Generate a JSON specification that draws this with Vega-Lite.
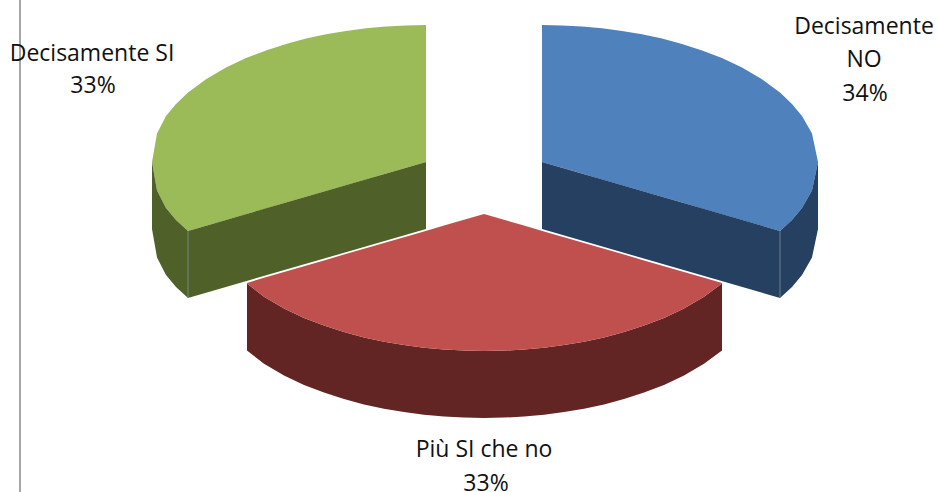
{
"$schema":"https://vega.github.io/schema/vega-lite/v6.json",
"width":938,"height":492,
"autosize":"none",
"padding":0,
"background":"white",
"config":{"view":{"stroke":null}},
"datasets":{
"faces":[
{"s":"blueTop","x":542,"y":25,"y2":162},{"s":"blueTop","x":562,"y":25.4,"y2":167.8},{"s":"blueTop","x":582,"y":26.4,"y2":173.6},{"s":"blueTop","x":602,"y":28.3,"y2":179.4},{"s":"blueTop","x":622,"y":30.9,"y2":185.2},{"s":"blueTop","x":642,"y":34.3,"y2":191},{"s":"blueTop","x":662,"y":38.6,"y2":196.8},{"s":"blueTop","x":682,"y":43.9,"y2":202.6},{"s":"blueTop","x":702,"y":50.4,"y2":208.4},{"s":"blueTop","x":722,"y":58.1,"y2":214.2},{"s":"blueTop","x":742,"y":67.6,"y2":220},{"s":"blueTop","x":762,"y":79.3,"y2":225.8},{"s":"blueTop","x":780,"y":92.6,"y2":231},{"s":"blueTop","x":792,"y":104,"y2":220},{"s":"blueTop","x":802,"y":116,"y2":208},{"s":"blueTop","x":812,"y":133.6,"y2":190.4},{"s":"blueTop","x":818,"y":162,"y2":162},
{"s":"blueIn","x":542,"y":162,"y2":229},{"s":"blueIn","x":780,"y":231,"y2":298},
{"s":"blueOut","x":780,"y":231,"y2":298},{"s":"blueOut","x":792,"y":220,"y2":287},{"s":"blueOut","x":802,"y":208,"y2":275},{"s":"blueOut","x":812,"y":190.4,"y2":257.4},{"s":"blueOut","x":818,"y":162,"y2":229},
{"s":"greenTop","x":426,"y":25,"y2":162},{"s":"greenTop","x":406,"y":25.4,"y2":167.8},{"s":"greenTop","x":386,"y":26.4,"y2":173.6},{"s":"greenTop","x":366,"y":28.3,"y2":179.4},{"s":"greenTop","x":346,"y":30.9,"y2":185.2},{"s":"greenTop","x":326,"y":34.3,"y2":191},{"s":"greenTop","x":306,"y":38.6,"y2":196.8},{"s":"greenTop","x":286,"y":43.9,"y2":202.6},{"s":"greenTop","x":266,"y":50.4,"y2":208.4},{"s":"greenTop","x":246,"y":58.1,"y2":214.2},{"s":"greenTop","x":226,"y":67.6,"y2":220},{"s":"greenTop","x":206,"y":79.3,"y2":225.8},{"s":"greenTop","x":188,"y":92.6,"y2":231},{"s":"greenTop","x":176,"y":104,"y2":220},{"s":"greenTop","x":166,"y":116,"y2":208},{"s":"greenTop","x":157,"y":133.6,"y2":190.4},{"s":"greenTop","x":152,"y":162,"y2":162},
{"s":"greenIn","x":426,"y":162,"y2":229},{"s":"greenIn","x":188,"y":231,"y2":298},
{"s":"greenOut","x":188,"y":231,"y2":298},{"s":"greenOut","x":176,"y":220,"y2":287},{"s":"greenOut","x":166,"y":208,"y2":275},{"s":"greenOut","x":157,"y":190.4,"y2":257.4},{"s":"greenOut","x":152,"y":162,"y2":229},
{"s":"redOut","x":247,"y":283.4,"y2":350.4},{"s":"redOut","x":264,"y":296.7,"y2":363.7},{"s":"redOut","x":284,"y":308.4,"y2":375.4},{"s":"redOut","x":304,"y":317.9,"y2":384.9},{"s":"redOut","x":324,"y":325.6,"y2":392.6},{"s":"redOut","x":344,"y":332.1,"y2":399.1},{"s":"redOut","x":364,"y":337.4,"y2":404.4},{"s":"redOut","x":384,"y":341.7,"y2":408.7},{"s":"redOut","x":404,"y":345.1,"y2":412.1},{"s":"redOut","x":424,"y":347.7,"y2":414.7},{"s":"redOut","x":444,"y":349.6,"y2":416.6},{"s":"redOut","x":464,"y":350.6,"y2":417.6},{"s":"redOut","x":484,"y":351,"y2":418},{"s":"redOut","x":504,"y":350.6,"y2":417.6},{"s":"redOut","x":524,"y":349.6,"y2":416.6},{"s":"redOut","x":544,"y":347.7,"y2":414.7},{"s":"redOut","x":564,"y":345.1,"y2":412.1},{"s":"redOut","x":584,"y":341.7,"y2":408.7},{"s":"redOut","x":604,"y":337.4,"y2":404.4},{"s":"redOut","x":624,"y":332.1,"y2":399.1},{"s":"redOut","x":644,"y":325.6,"y2":392.6},{"s":"redOut","x":664,"y":317.9,"y2":384.9},{"s":"redOut","x":684,"y":308.4,"y2":375.4},{"s":"redOut","x":704,"y":296.7,"y2":363.7},{"s":"redOut","x":722,"y":283.4,"y2":350.4},
{"s":"redTop","x":247,"y":283,"y2":283.4},{"s":"redTop","x":264,"y":277.8,"y2":296.7},{"s":"redTop","x":284,"y":272,"y2":308.4},{"s":"redTop","x":304,"y":266.2,"y2":317.9},{"s":"redTop","x":324,"y":260.4,"y2":325.6},{"s":"redTop","x":344,"y":254.6,"y2":332.1},{"s":"redTop","x":364,"y":248.8,"y2":337.4},{"s":"redTop","x":384,"y":243,"y2":341.7},{"s":"redTop","x":404,"y":237.2,"y2":345.1},{"s":"redTop","x":424,"y":231.4,"y2":347.7},{"s":"redTop","x":444,"y":225.6,"y2":349.6},{"s":"redTop","x":464,"y":219.8,"y2":350.6},{"s":"redTop","x":484,"y":214,"y2":351},{"s":"redTop","x":504,"y":219.8,"y2":350.6},{"s":"redTop","x":524,"y":225.6,"y2":349.6},{"s":"redTop","x":544,"y":231.4,"y2":347.7},{"s":"redTop","x":564,"y":237.2,"y2":345.1},{"s":"redTop","x":584,"y":243,"y2":341.7},{"s":"redTop","x":604,"y":248.8,"y2":337.4},{"s":"redTop","x":624,"y":254.6,"y2":332.1},{"s":"redTop","x":644,"y":260.4,"y2":325.6},{"s":"redTop","x":664,"y":266.2,"y2":317.9},{"s":"redTop","x":684,"y":272,"y2":308.4},{"s":"redTop","x":704,"y":277.8,"y2":296.7},{"s":"redTop","x":722,"y":283,"y2":283.4}
],
"labels":[
{"t":"Decisamente SI","x":92,"y":54},{"t":"33%","x":93,"y":86},
{"t":"Decisamente","x":864,"y":27},{"t":"NO","x":864,"y":60},{"t":"34%","x":865,"y":94},
{"t":"Più SI che no","x":484,"y":450},{"t":"33%","x":486,"y":484}
]
},
"layer":[
{"data":{"name":"faces"},
"mark":{"type":"area","interpolate":"linear","orient":"vertical"},
"encoding":{
"x":{"field":"x","type":"quantitative","scale":{"domain":[0,938],"nice":false,"zero":false},"axis":null},
"y":{"field":"y","type":"quantitative","stack":null,"scale":{"domain":[492,0],"nice":false,"zero":false},"axis":null},
"y2":{"field":"y2"},
"color":{"field":"s","type":"nominal","legend":null,"scale":{
"domain":["blueTop","blueIn","blueOut","greenTop","greenIn","greenOut","redTop","redOut"],
"range":["#4f81bd","#254061","#254061","#9bbb59","#4f6128","#4f6128","#c0504d","#632523"]}}
}},
{"data":{"values":[{"x":780,"y":231,"y2":298},{"x":188,"y":231,"y2":298}]},
"mark":{"type":"rule","color":"#8a9aa8","strokeWidth":1,"opacity":0.7},
"encoding":{"x":{"field":"x","type":"quantitative"},"y":{"field":"y","type":"quantitative"},"y2":{"field":"y2"}}},
{"data":{"values":[{"x":20}]},
"mark":{"type":"rule","color":"#a6a6a6","strokeWidth":2},
"encoding":{"x":{"field":"x","type":"quantitative"}}},
{"data":{"name":"labels"},
"mark":{"type":"text","font":"Open Sans","fontSize":23,"color":"#111111","align":"center","baseline":"middle"},
"encoding":{"x":{"field":"x","type":"quantitative"},"y":{"field":"y","type":"quantitative"},"text":{"field":"t"}}}
]
}
